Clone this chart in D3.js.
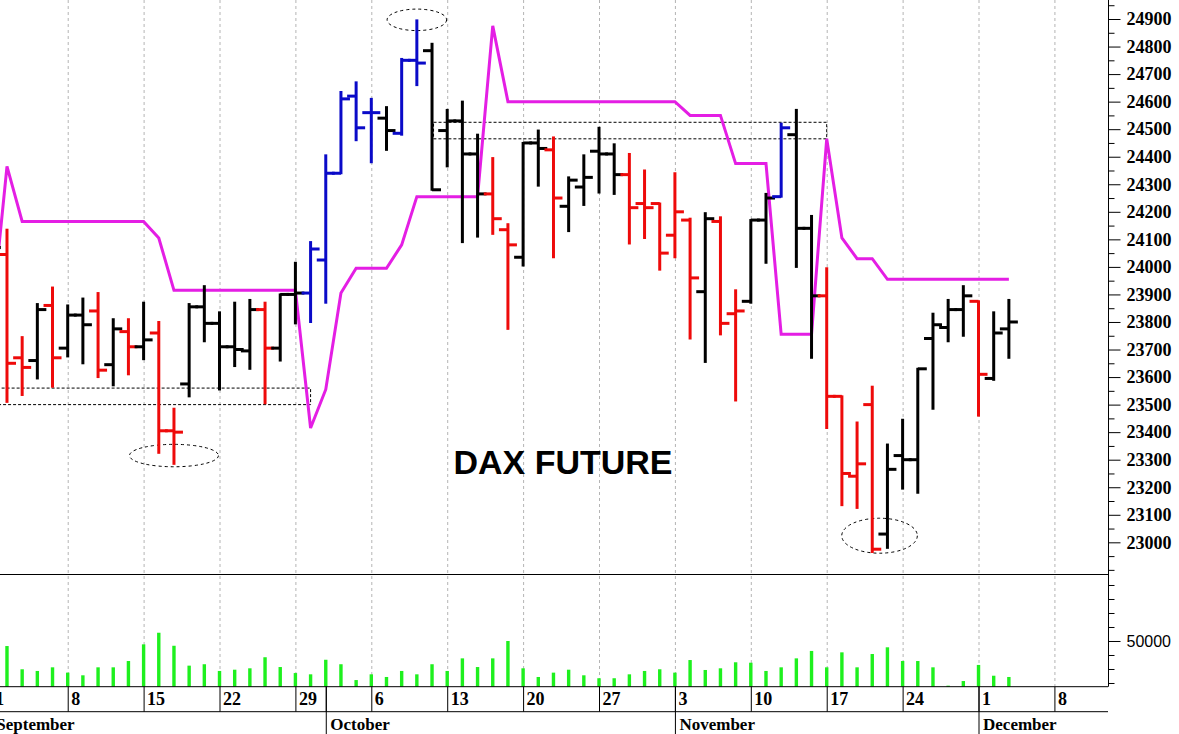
<!DOCTYPE html>
<html><head><meta charset="utf-8">
<script src="https://cdn.jsdelivr.net/npm/d3@7/dist/d3.min.js"></script>
<style>body{margin:0;background:#fff}svg{display:block}</style>
</head><body><svg id="c" width="1179" height="734"></svg>
<script>
// ---- data ----
const dates = ["2025-09-01","2025-09-02","2025-09-03","2025-09-04","2025-09-05","2025-09-08","2025-09-09","2025-09-10","2025-09-11","2025-09-12",
"2025-09-15","2025-09-16","2025-09-17","2025-09-18","2025-09-19","2025-09-22","2025-09-23","2025-09-24","2025-09-25","2025-09-26",
"2025-09-29","2025-09-30","2025-10-01","2025-10-02","2025-10-03","2025-10-06","2025-10-07","2025-10-08","2025-10-09","2025-10-10",
"2025-10-13","2025-10-14","2025-10-15","2025-10-16","2025-10-17","2025-10-20","2025-10-21","2025-10-22","2025-10-23","2025-10-24",
"2025-10-27","2025-10-28","2025-10-29","2025-10-30","2025-10-31","2025-11-03","2025-11-04","2025-11-05","2025-11-06","2025-11-07",
"2025-11-10","2025-11-11","2025-11-12","2025-11-13","2025-11-14","2025-11-17","2025-11-18","2025-11-19","2025-11-20","2025-11-21",
"2025-11-24","2025-11-25","2025-11-26","2025-11-27","2025-11-28","2025-12-01","2025-12-02","2025-12-03"];

const open = [24000,24045,23670,23660,23860,23705,23825,23840,23645,23765,
23710,23760,23405,23575,23855,23795,23710,23695,23845,23705,
23900,23905,24025,24340,24620,24560,24540,24485,24750,24785,
24495,24530,24410,24265,24135,24035,24450,24425,24220,24290,
24420,24410,24335,24230,24230,24115,24170,23910,24165,23830,
23875,24170,24255,24480,24140,23895,23530,23240,23500,23030,
23315,23300,23740,23780,23845,23875,23595,23775];
const high = [24150,24135,23745,23865,23925,23860,23885,23905,23810,23810,
23870,23800,23485,23865,23930,23835,23870,23880,23870,23900,
24015,24090,24405,24635,24670,24610,24580,24755,24895,24810,
24570,24600,24480,24395,24155,24450,24495,24470,24325,24405,
24505,24445,24410,24350,24230,24340,24175,24195,24180,23915,
24170,24265,24520,24570,24185,23995,23530,23435,23565,23355,
23445,23630,23830,23880,23930,23875,23835,23880];
const low = [23950,23510,23535,23595,23565,23675,23650,23600,23570,23610,
23665,23325,23285,23530,23730,23555,23640,23630,23505,23660,
23795,23800,23870,24340,24460,24380,24425,24480,24660,24280,
24365,24090,24110,24120,23775,24005,24295,24035,24130,24225,
24270,24265,24085,24105,23990,24035,23740,23655,23755,23515,
23870,24015,24255,24000,23670,23415,23135,23125,22965,22980,
23195,23180,23485,23730,23750,23460,23590,23670];
const close = [24070,23650,23635,23845,23670,23825,23790,23625,23775,23710,
23735,23405,23400,23855,23795,23710,23700,23845,23705,23900,
23905,24065,24340,24610,24505,24560,24495,24750,24740,24280,
24530,24410,24265,24175,24080,24450,24430,24250,24315,24325,
24410,24335,24215,24215,24050,24200,23960,24175,23795,23840,
24170,24250,24505,24140,23895,23530,23250,23285,22975,23265,
23300,23630,23790,23845,23895,23610,23760,23800];
// k = neutral/black, r = red, b = blue
const barClass = ["k","r","r","k","r","k","k","r","k","r",
"k","r","r","k","k","k","k","k","r","k",
"k","b","b","b","b","b","k","b","b","k",
"k","k","k","r","r","k","k","r","k","k",
"k","k","r","r","r","r","r","k","r","r",
"k","k","b","k","k","r","r","r","r","k",
"k","k","k","k","k","r","k","k"];
const volume = [30000,46400,29800,28600,31200,27400,25500,31200,31200,35700,
47600,55900,46600,32400,33400,28600,29500,30500,38400,31400,
27100,26200,36600,33400,22100,26200,24300,28600,26200,33400,
28600,37600,31400,37600,50000,30500,24300,27400,29500,25500,
23400,23400,26200,28600,29800,27400,36400,29300,30500,34800,
34500,28600,31200,37600,42900,31200,41900,31200,40700,45500,
35700,35700,31200,18100,21400,32900,25200,24300];
const stopLine = [23815,24365,24165,24165,24165,24165,24165,24165,24165,24165,
24165,24105,23915,23915,23915,23915,23915,23915,23915,23915,
23915,23415,23555,23905,23995,23995,23995,24080,24255,24255,
24255,24255,24255,24875,24600,24600,24600,24600,24600,24600,
24600,24600,24600,24600,24600,24600,24550,24550,24550,24375,
24375,24375,23755,23755,23755,24465,24105,24030,24030,23955,
23955,23955,23955,23955,23955,23955,23955,23955];

const priceTicks = [23000,23100,23200,23300,23400,23500,23600,23700,23800,23900,
24000,24100,24200,24300,24400,24500,24600,24700,24800,24900];
const priceMinorTicks = [22900,22950,23050,23150,23250,23350,23450,23550,23650,23750,23850,23950,
24050,24150,24250,24350,24450,24550,24650,24750,24850,24950];
const volumeTicks = [20000,30000,40000,60000,70000,80000,90000];
const volumeLabelTicks = [50000];
const weekStartIndex = [0,5,10,15,20,25,30,35,40,45,50,55,60,65,70];
const weekLabels = ["1","8","15","22","29","6","13","20","27","3","10","17","24","1","8"];
const monthStartIndex = [0,22,45,65];
const monthLabels = ["September","October","November","December"];
const title = "DAX FUTURE";
// annotations in data units: [centerIndex, centerPrice, radiusDays, radiusPoints]
const ellipses = [[12,23315,2.93,40.7],[28,24897,1.96,39],[58.48,23024,2.49,63.5]];
// boxes: [fromIndex, toIndex, lowPrice, highPrice]
const boxes = [[-1,21,23500,23560],[29.1,55,24465,24525]];

// ---- layout ----
const W = 1179, H = 734, axisX = 1108, priceBottom = 574, volBottom = 686.7, dateMid = 711.7;
const colors = {k:"#000000", r:"#ee0a0a", b:"#0a0ac8"};

const svg = d3.select("#c");
svg.append("rect").attr("width",W).attr("height",H).attr("fill","#fff");

const x = d3.scaleLinear().domain([0.54, 73.53]).range([0, axisX]);
const y = d3.scaleLinear().domain([22885, 24969]).range([priceBottom, 0]);
const yv = d3.scaleLinear().domain([17357, 97857]).range([volBottom, priceBottom]);

// gridlines
svg.append("g").selectAll("line").data(weekStartIndex).join("line")
  .attr("x1",d=>x(d)+0.5).attr("x2",d=>x(d)+0.5).attr("y1",0).attr("y2",volBottom)
  .attr("stroke","#b4b4b4").attr("stroke-width",1).attr("stroke-dasharray","3,3");

// boxes
const bx = svg.append("g").attr("fill","none").attr("stroke","#000").attr("stroke-width",1).attr("stroke-dasharray","3,2");
boxes.forEach(b=>{
  bx.append("rect").attr("x",x(b[0])).attr("y",y(b[3])).attr("width",x(b[1])-x(b[0])).attr("height",y(b[2])-y(b[3]));
});
// ellipses
svg.append("g").selectAll("ellipse").data(ellipses).join("ellipse")
  .attr("cx",d=>x(d[0])).attr("cy",d=>y(d[1]))
  .attr("rx",d=>x(d[2])-x(0)).attr("ry",d=>y(22885)-y(22885+d[3]))
  .attr("fill","none").attr("stroke","#000").attr("stroke-width",1).attr("stroke-dasharray","3,3");

// stop line
const line = d3.line().x((d,i)=>x(i)).y(d=>y(d));
svg.append("path").datum(stopLine).attr("d",line).attr("fill","none")
  .attr("stroke","#e41ee4").attr("stroke-width",3).attr("stroke-linejoin","miter");

// OHLC bars
const tick = 9;
const gb = svg.append("g");
dates.forEach((d,i)=>{
  const c = colors[barClass[i]], xi = x(i);
  const g = gb.append("g").attr("stroke",c).attr("stroke-width",3);
  g.append("line").attr("x1",xi).attr("x2",xi).attr("y1",y(high[i])-1).attr("y2",y(low[i])+1);
  g.append("line").attr("x1",xi-tick).attr("x2",xi).attr("y1",y(open[i])).attr("y2",y(open[i]));
  g.append("line").attr("x1",xi).attr("x2",xi+tick).attr("y1",y(close[i])).attr("y2",y(close[i]));
});

// volume bars
svg.append("g").selectAll("rect").data(volume).join("rect")
  .attr("x",(d,i)=>x(i)-1.7).attr("width",3.4)
  .attr("y",d=>yv(d)).attr("height",d=>volBottom-yv(d))
  .attr("fill","#1ef01e");

// title
svg.append("text").attr("x",563).attr("y",474).attr("text-anchor","middle")
  .attr("font-family","'Liberation Sans', Arial, sans-serif").attr("font-weight","bold")
  .attr("font-size",34).attr("fill","#000").text(title);

// frame lines
const fr = svg.append("g").attr("stroke","#000").attr("stroke-width",1);
fr.append("line").attr("x1",0).attr("x2",axisX).attr("y1",priceBottom+0.5).attr("y2",priceBottom+0.5);
fr.append("line").attr("x1",0).attr("x2",axisX).attr("y1",volBottom).attr("y2",volBottom);
fr.append("line").attr("x1",0).attr("x2",axisX).attr("y1",dateMid).attr("y2",dateMid);
fr.append("line").attr("x1",axisX+0.5).attr("x2",axisX+0.5).attr("y1",0).attr("y2",volBottom);

// price axis
const serif = "'Liberation Serif','Times New Roman',serif";
const pa = svg.append("g").attr("transform",`translate(${axisX+0.5},0)`)
  .call(d3.axisRight(y).tickValues(priceTicks).tickSize(12).tickPadding(6).tickSizeOuter(0).tickFormat(d3.format("d")));
const pm = svg.append("g").attr("transform",`translate(${axisX+0.5},0)`)
  .call(d3.axisRight(y).tickValues(priceMinorTicks).tickSize(6).tickSizeOuter(0).tickFormat(""));
[pa,pm].forEach(g=>{g.select(".domain").remove(); g.selectAll("line").attr("stroke","#000");});
pa.selectAll("text").attr("font-family",serif).attr("font-weight","bold").attr("font-size",18).attr("fill","#000");

// volume axis
const va = svg.append("g").attr("transform",`translate(${axisX+0.5},0)`)
  .call(d3.axisRight(yv).tickValues(volumeLabelTicks).tickSize(12).tickPadding(6).tickSizeOuter(0).tickFormat(d3.format("d")));
const vm = svg.append("g").attr("transform",`translate(${axisX+0.5},0)`)
  .call(d3.axisRight(yv).tickValues(volumeTicks).tickSize(6).tickSizeOuter(0).tickFormat(""));
[va,vm].forEach(g=>{g.select(".domain").remove(); g.selectAll("line").attr("stroke","#000");});
va.selectAll("text").attr("font-family","'Liberation Sans',Arial,sans-serif").attr("font-size",16).attr("fill","#000");

// date axis (week row)
const da = svg.append("g").attr("transform",`translate(0,${volBottom})`)
  .call(d3.axisBottom(x).tickValues(weekStartIndex.concat([22])).tickSize(dateMid-volBottom).tickSizeOuter(0)
    .tickFormat(d=>{const k=weekStartIndex.indexOf(d); return k>=0?weekLabels[k]:"";}));
da.select(".domain").remove();
da.selectAll("line").attr("stroke","#000");
da.selectAll("text").attr("text-anchor","start").attr("x",3).attr("y",18).attr("dy",0)
  .attr("font-family",serif).attr("font-weight","bold").attr("font-size",18).attr("fill","#000");

// month row
const ma = svg.append("g").attr("transform",`translate(0,${volBottom})`)
  .call(d3.axisBottom(x).tickValues(monthStartIndex).tickSize(H-volBottom).tickSizeOuter(0)
    .tickFormat(d=>monthLabels[monthStartIndex.indexOf(d)]));
ma.select(".domain").remove();
ma.selectAll("line").attr("stroke","#000");
ma.selectAll("text").attr("text-anchor","start").attr("x",4).attr("y",dateMid-volBottom+18).attr("dy",0)
  .attr("font-family",serif).attr("font-weight","bold").attr("font-size",17).attr("fill","#000");
</script></body></html>
